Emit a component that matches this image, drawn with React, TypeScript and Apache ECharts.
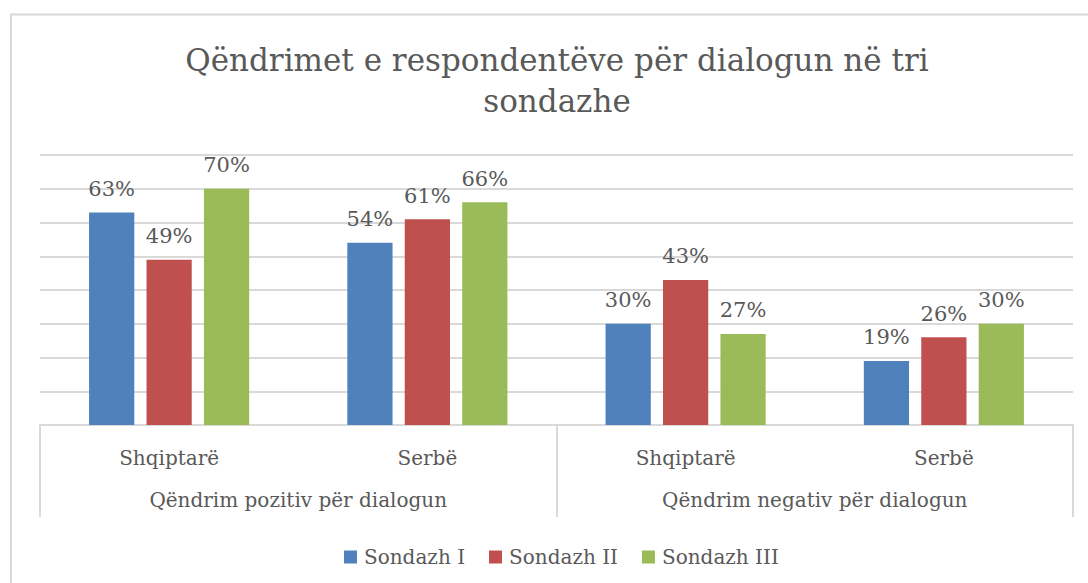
import React, { useEffect, useRef } from "react";
import * as echarts from "echarts";

const TITLE = "Qëndrimet e respondentëve për dialogun në tri\nsondazhe";
const subCategories = ["Shqiptarë", "Serbë", "Shqiptarë", "Serbë"];
const groupCategories = ["Qëndrim pozitiv për dialogun", "Qëndrim negativ për dialogun"];
const seriesNames = ["Sondazh I", "Sondazh II", "Sondazh III"];
const sondazh1 = [63, 54, 30, 19];
const sondazh2 = [49, 61, 43, 26];
const sondazh3 = [70, 66, 27, 30];
const colors = ["#4F81BD", "#C0504D", "#9BBB59"];

const FONT = "DejaVu Serif";
const TEXT = "#595959";
const LINE = "#D9D9D9";

export default function App() {
  const ref = useRef<HTMLDivElement>(null);
  useEffect(() => {
    if (!ref.current) return;
    const chart = echarts.init(ref.current, undefined, { renderer: "svg" });
    const values = [sondazh1, sondazh2, sondazh3];
    chart.setOption({
      animation: false,
      color: colors,
      textStyle: { fontFamily: FONT, color: TEXT },
      graphic: [
        {
          type: "rect",
          shape: { x: 11, y: 14.5, width: 1200, height: 700 },
          style: { fill: "none", stroke: LINE, lineWidth: 2 },
          silent: true,
        },
        {
          type: "text",
          x: 557,
          y: 39,
          style: {
            text: TITLE,
            fontFamily: FONT,
            fontSize: 31,
            lineHeight: 41,
            fill: TEXT,
            align: "center",
            verticalAlign: "top",
          },
        },
      ],
      legend: {
        data: seriesNames,
        left: 339,
        top: 542,
        icon: "rect",
        itemWidth: 13,
        itemHeight: 13,
        itemGap: 24,
        textStyle: { fontFamily: FONT, fontSize: 20, color: TEXT, padding: [0, 0, 0, 2] },
      },
      grid: { left: 40, right: 15, top: 155, bottom: 158, containLabel: false },
      xAxis: [
        {
          type: "category",
          data: subCategories,
          position: "bottom",
          axisLine: { show: true, lineStyle: { color: LINE, width: 2 } },
          axisTick: { show: false },
          axisLabel: { fontFamily: FONT, fontSize: 20, color: TEXT, margin: 23, interval: 0 },
        },
        {
          type: "category",
          data: groupCategories,
          position: "bottom",
          axisLine: { show: false },
          axisTick: { show: true, length: 92, lineStyle: { color: LINE, width: 2 } },
          axisLabel: { fontFamily: FONT, fontSize: 20, color: TEXT, margin: 65, interval: 0 },
        },
      ],
      yAxis: {
        type: "value",
        min: 0,
        max: 80,
        interval: 10,
        axisLabel: { show: false },
        axisLine: { show: false },
        axisTick: { show: false },
        splitLine: { lineStyle: { color: LINE, width: 2 } },
      },
      series: seriesNames.map((name, i) => ({
        name,
        type: "bar",
        xAxisIndex: 0,
        data: values[i],
        barGap: "27%",
        barCategoryGap: "38%",
        label: {
          show: true,
          position: "top",
          distance: 13,
          formatter: "{c}%",
          fontFamily: FONT,
          fontSize: 21,
          color: TEXT,
        },
      })),
    });
    return () => chart.dispose();
  }, []);
  return (
    <div
      ref={ref}
      style={{ position: "fixed", left: 0, top: 0, width: 1088, height: 583, background: "#fff" }}
    />
  );
}
